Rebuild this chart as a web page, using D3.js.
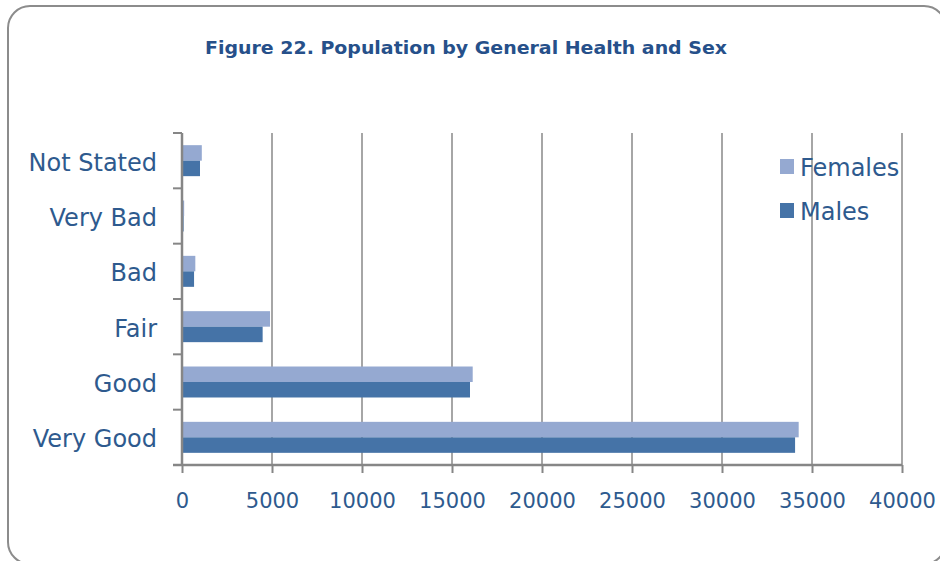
<!DOCTYPE html>
<html>
<head>
<meta charset="utf-8">
<script src="https://cdn.jsdelivr.net/npm/d3@7"></script>
<style>
  html, body { margin: 0; padding: 0; background: #fff; }
  svg { display: block; }
</style>
</head>
<body>
<svg id="chart" width="940" height="561"></svg>
<script>
// Population by general health status, split by sex
const categories = ["Very Good", "Good", "Fair", "Bad", "Very Bad", "Not Stated"];
const females = [34260, 16150, 4890, 740, 120, 1100];
const males = [34060, 16000, 4480, 670, 90, 1000];
const xTicks = [0, 5000, 10000, 15000, 20000, 25000, 30000, 35000, 40000];
const seriesNames = ["Females", "Males"];

const colors = { Females: "#95A9D1", Males: "#4573A7" };
const textColor = "#2E5A8E";

const svg = d3.select("#chart");

// rounded frame
svg.append("rect")
  .attr("x", 8).attr("y", 6)
  .attr("width", 938).attr("height", 558)
  .attr("rx", 22).attr("ry", 22)
  .attr("fill", "#fff")
  .attr("stroke", "#8C8C8C")
  .attr("stroke-width", 2);

svg.append("text")
  .attr("x", 466).attr("y", 54)
  .attr("text-anchor", "middle")
  .attr("font-family", "DejaVu Sans, sans-serif")
  .attr("font-weight", "bold")
  .attr("font-size", 17)
  .attr("textLength", 522)
  .attr("lengthAdjust", "spacingAndGlyphs")
  .attr("fill", "#26508A")
  .text("Figure 22. Population by General Health and Sex");

const plot = { left: 182, right: 902, top: 133, bottom: 465 };

const x = d3.scaleLinear().domain([0, 40000]).range([plot.left, plot.right]);
const y = d3.scaleBand().domain(categories.slice().reverse())
  .range([plot.top, plot.bottom]).paddingInner(0.44).paddingOuter(0.22);
const sub = d3.scaleBand().domain(seriesNames).range([0, y.bandwidth()]);

// vertical gridlines
svg.append("g").selectAll("line")
  .data(xTicks.filter(d => d > 0))
  .join("line")
  .attr("x1", d => x(d)).attr("x2", d => x(d))
  .attr("y1", plot.top).attr("y2", plot.bottom)
  .attr("stroke", "#A6A6A6").attr("stroke-width", 2);

// bars
const rows = categories.map((c, i) => ({ cat: c, Females: females[i], Males: males[i] }));
const groups = svg.append("g").selectAll("g")
  .data(rows).join("g")
  .attr("transform", d => `translate(0,${y(d.cat)})`);
groups.selectAll("rect")
  .data(d => seriesNames.map(s => ({ s, v: d[s] })))
  .join("rect")
  .attr("x", x(0))
  .attr("y", d => sub(d.s))
  .attr("width", d => x(d.v) - x(0))
  .attr("height", sub.bandwidth())
  .attr("fill", d => colors[d.s]);

// bottom axis
const xAxis = svg.append("g")
  .attr("transform", `translate(0,${plot.bottom})`)
  .call(d3.axisBottom(x).tickValues(xTicks).tickFormat(d3.format("d"))
    .tickSize(8).tickPadding(20).tickSizeOuter(0));
xAxis.select(".domain").attr("stroke", "#868686").attr("stroke-width", 2.5)
  .attr("d", `M${plot.left - 9},0H${plot.right}`);
xAxis.selectAll(".tick line").attr("stroke", "#868686").attr("stroke-width", 2);
xAxis.selectAll(".tick text")
  .attr("fill", textColor)
  .attr("font-family", "DejaVu Sans, sans-serif")
  .attr("font-size", 21);

// left axis with ticks between categories
const yAxis = svg.append("g").attr("transform", `translate(${plot.left},0)`);
yAxis.append("line")
  .attr("x1", 0).attr("x2", 0).attr("y1", plot.top).attr("y2", plot.bottom)
  .attr("stroke", "#868686").attr("stroke-width", 2.5);
const boundaries = d3.range(categories.length + 1).map(i => plot.top + i * (plot.bottom - plot.top) / categories.length);
yAxis.selectAll("line.tk").data(boundaries).join("line")
  .attr("class", "tk")
  .attr("x1", -9).attr("x2", 0)
  .attr("y1", d => d).attr("y2", d => d)
  .attr("stroke", "#868686").attr("stroke-width", 2);
yAxis.selectAll("text").data(categories).join("text")
  .attr("x", -25)
  .attr("y", d => y(d) + y.bandwidth() / 2 + 10)
  .attr("text-anchor", "end")
  .attr("font-family", "DejaVu Sans, sans-serif")
  .attr("font-size", 24)
  .attr("fill", textColor)
  .text(d => d);

// legend
const legend = svg.append("g").selectAll("g")
  .data(seriesNames).join("g")
  .attr("transform", (d, i) => `translate(780,${159 + i * 44})`);
legend.append("rect")
  .attr("width", 14).attr("height", 15)
  .attr("fill", d => colors[d]);
legend.append("text")
  .attr("x", 20).attr("y", 17)
  .attr("font-family", "DejaVu Sans, sans-serif")
  .attr("font-size", 24)
  .attr("fill", textColor)
  .text(d => d);
</script>
</body>
</html>
